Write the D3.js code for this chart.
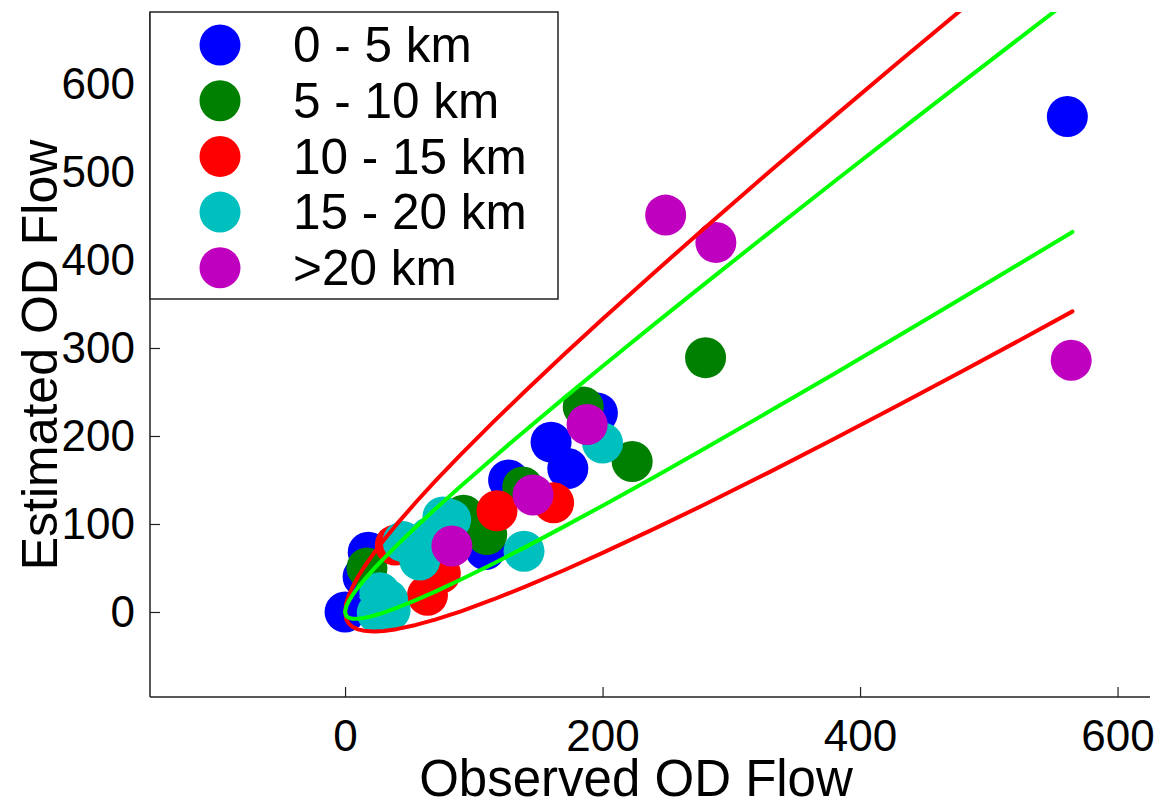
<!DOCTYPE html>
<html>
<head>
<meta charset="utf-8">
<script src="https://cdn.jsdelivr.net/npm/d3@7"></script>
<style>
  html, body { margin: 0; padding: 0; background: #fff; }
  svg text { font-family: "Liberation Sans", Arial, Helvetica, sans-serif; fill: #000; }
</style>
</head>
<body>
<div id="chart"></div>
<script>
// distance groups (legend order = draw order)
var groups = ['0 - 5 km', '5 - 10 km', '10 - 15 km', '15 - 20 km', '>20 km'];
var groupColors = ['#0000ff', '#008000', '#ff0000', '#00bfbf', '#bf00bf'];

// observed / estimated OD flows per group
var obs_0_5   = [0, 18, 14, 127, 109, 160, 173, 196, 561];
var est_0_5   = [0, 68, 40, 150, 71, 193, 163, 226, 563];
var obs_5_10  = [17, 92, 110, 138, 185, 223, 280];
var est_5_10  = [50, 110, 88, 142, 233, 171, 289];
var obs_10_15 = [39, 64, 74, 118, 162];
var est_10_15 = [76, 19, 44, 115, 124];
var obs_15_20 = [27, 33, 35, 25, 58, 45, 66, 82, 76, 139, 200];
var est_15_20 = [22, 14, 2, -1, 59, 80, 85, 105, 108, 69, 192];
var obs_20    = [83, 146, 188, 249, 288, 564];
var est_20    = [75, 133, 213, 451, 420, 286];

// envelope curves (upper branch and lower branch share the same x samples)
var bandX     = [0, 1, 3, 6, 10, 15, 22, 30, 40, 55, 70, 90, 115, 140, 170, 200, 240, 280, 330, 380, 430, 480, 530, 565];
var redUpper  = [0, 10.4, 19.3, 29.0, 39.7, 51.4, 66.1, 81.5, 99.5, 124.7, 148.6, 179.2, 215.8, 251.2, 292.6, 332.9, 385.6, 437.3, 500.8, 563.2, 624.9, 685.9, 746.4, 788.4];
var redLower  = [0, -8.4, -13.3, -17.0, -19.7, -21.4, -22.1, -21.5, -19.5, -14.7, -8.6, 0.8, 14.2, 28.8, 47.4, 67.1, 94.4, 122.7, 159.2, 196.8, 235.1, 274.1, 313.6, 341.6];
var greenUpper = [0, 6.6, 12.7, 19.7, 27.7, 36.7, 48.3, 60.7, 75.4, 96.5, 116.9, 143.1, 175.1, 206.3, 243.0, 279.2, 326.8, 373.7, 431.7, 489.2, 546.1, 602.7, 658.9, 698.1];
var greenLower = [0, -4.6, -6.7, -7.7, -7.7, -6.7, -4.3, -0.7, 4.6, 13.5, 23.1, 36.9, 54.9, 73.7, 97.0, 120.8, 153.2, 186.3, 228.3, 270.8, 313.9, 357.3, 401.1, 431.9];

var xTicks = [0, 200, 400, 600];
var yTicks = [0, 100, 200, 300, 400, 500, 600];

var svgwidth = 1162, svgheight = 799;
var plotLeft = 150, plotRight = 1150, plotTop = 12, plotBottom = 697;

var svg = d3.select('#chart').append('svg')
    .attr('width', svgwidth)
    .attr('height', svgheight);

var xscale = d3.scaleLinear().domain([-151.5, 625.2]).range([plotLeft, plotRight]);
var yscale = d3.scaleLinear().domain([-96.6, 681.8]).range([plotBottom, plotTop]);

svg.append('clipPath').attr('id', 'plotclip')
    .append('rect')
    .attr('x', plotLeft).attr('y', plotTop)
    .attr('width', plotRight - plotLeft).attr('height', plotBottom - plotTop);

// axes with inward ticks
var xaxis = d3.axisBottom(xscale).tickValues(xTicks).tickSizeInner(-10).tickSizeOuter(0).tickPadding(23);
var yaxis = d3.axisLeft(yscale).tickValues(yTicks).tickSizeInner(-10).tickSizeOuter(0).tickPadding(15);

var gx = svg.append('g')
    .attr('transform', 'translate(0,' + plotBottom + ')')
    .call(xaxis);
var gy = svg.append('g')
    .attr('transform', 'translate(' + plotLeft + ',0)')
    .call(yaxis);
[gx, gy].forEach(function(g) {
    g.select('.domain').attr('stroke', '#222').attr('stroke-width', 1.5);
    g.selectAll('.tick line').attr('stroke', '#222').attr('stroke-width', 1.2);
    g.selectAll('.tick text').style('font-size', '44px').attr('fill', '#000');
});
// axis lines span the whole box
gx.select('.domain').attr('d', 'M' + plotLeft + ',0H' + plotRight);
gy.select('.domain').attr('d', 'M0,' + plotBottom + 'V' + plotTop);

// axis titles
svg.append('text')
    .attr('x', 636)
    .attr('y', 796)
    .style('text-anchor', 'middle')
    .style('font-size', '51px')
    .text('Observed OD Flow');
svg.append('text')
    .attr('transform', 'translate(57,' + 355 + ') rotate(-90)')
    .style('text-anchor', 'middle')
    .style('font-size', '50px')
    .text('Estimated OD Flow');

// scatter
var series = [
    {obs: obs_0_5, est: est_0_5},
    {obs: obs_5_10, est: est_5_10},
    {obs: obs_10_15, est: est_10_15},
    {obs: obs_15_20, est: est_15_20},
    {obs: obs_20, est: est_20}
];
var g_pts = svg.append('g').attr('clip-path', 'url(#plotclip)');
series.forEach(function(s, i) {
    var pts = s.obs.map(function(v, j) { return {x: v, y: s.est[j]}; });
    g_pts.append('g')
        .selectAll('circle')
        .data(pts)
        .join('circle')
        .attr('cx', d => xscale(d.x))
        .attr('cy', d => yscale(d.y))
        .attr('r', 20.5)
        .attr('fill', groupColors[i]);
});

// envelope lines: upper branch from far end down to origin, then lower branch out
function bandPath(upper, lower) {
    var pts = [];
    for (var i = bandX.length - 1; i >= 0; i--) pts.push([bandX[i], upper[i]]);
    for (var k = 1; k < bandX.length; k++) pts.push([bandX[k], lower[k]]);
    return pts;
}
var line = d3.line().x(d => xscale(d[0])).y(d => yscale(d[1]));
var g_lines = svg.append('g').attr('clip-path', 'url(#plotclip)');
g_lines.append('path')
    .attr('d', line(bandPath(redUpper, redLower)))
    .attr('fill', 'none').attr('stroke', '#ff0000').attr('stroke-width', 4)
    .attr('stroke-linejoin', 'round').attr('stroke-linecap', 'round');
g_lines.append('path')
    .attr('d', line(bandPath(greenUpper, greenLower)))
    .attr('fill', 'none').attr('stroke', '#00ff00').attr('stroke-width', 4)
    .attr('stroke-linejoin', 'round').attr('stroke-linecap', 'round');

// legend
var legend = svg.append('g').attr('transform', 'translate(150, 12)');
legend.append('rect')
    .attr('x', 0).attr('y', 0)
    .attr('width', 408).attr('height', 287)
    .attr('fill', '#fff').attr('stroke', '#222').attr('stroke-width', 1.5);
groups.forEach(function(name, i) {
    legend.append('circle')
        .attr('cx', 70)
        .attr('cy', 33 + i * 55.7)
        .attr('r', 20.5)
        .attr('fill', groupColors[i]);
    legend.append('text')
        .attr('x', 143)
        .attr('y', 33 + i * 55.7)
        .attr('dy', '0.35em')
        .style('font-size', '49.5px')
        .text(name);
});
</script>
</body>
</html>
